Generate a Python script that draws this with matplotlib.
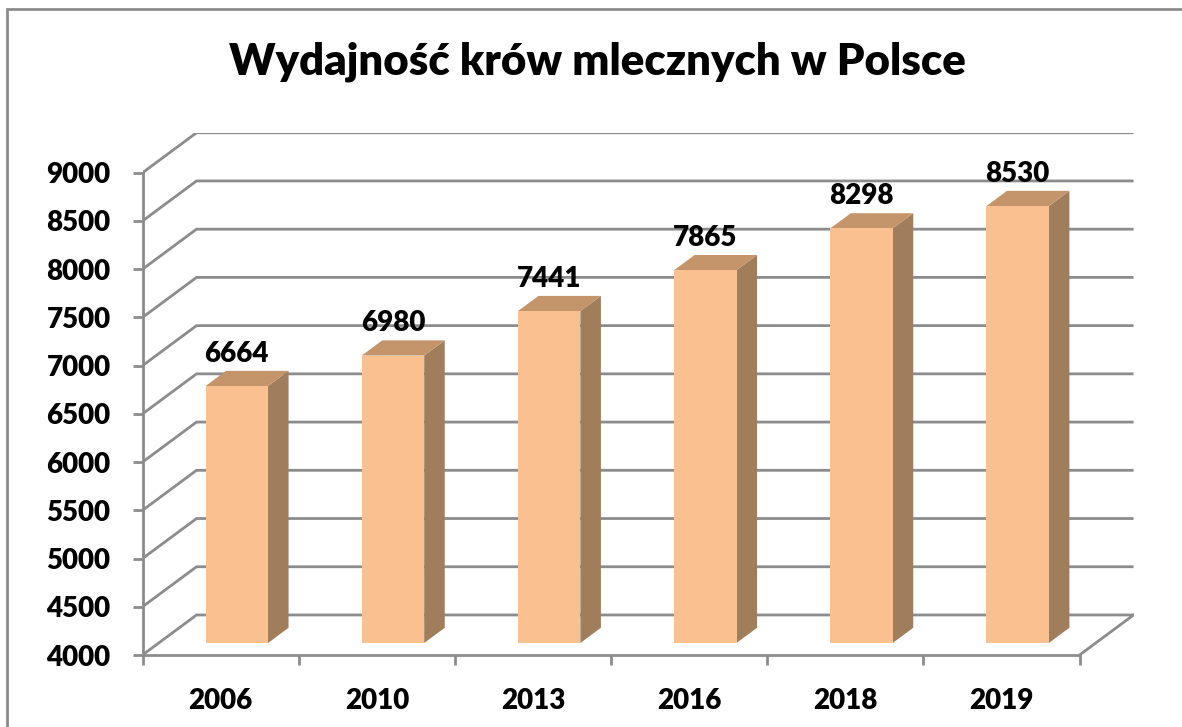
import matplotlib
matplotlib.use("Agg")
import matplotlib.pyplot as plt
from matplotlib.patches import Polygon, Rectangle

plt.rcParams['font.family'] = ['Lato', 'DejaVu Sans']
plt.rcParams['font.weight'] = 'bold'

# data
years = ["2006", "2010", "2013", "2016", "2018", "2019"]
values = [6664, 6980, 7441, 7865, 8298, 8530]
yticks = list(range(4000, 9001, 500))

title = "Wydajność krów mlecznych w Polsce"

# colours
front_col = "#FAC090"
top_col = "#C4946A"
side_col = "#A07D5B"
grid_col = "#8C8C8C"

# pseudo 3d: depth shift in data units
DX = 0.346
DY = 415
ymin, ymax = 4000, 9000
bar_w = 0.4
bar_d0 = 0.30   # depth of bar front face
bar_dd = 0.38   # depth of bar

W, H = 1182, 727
fig = plt.figure(figsize=(W / 100, H / 100), dpi=100)
# axes placed so that front plane runs 142.5..1079.5 px, 655..172 px
left_px, right_px = 142.5, 142.5 + 156.17 * (6 + DX)
bot_px = 655
top_px = bot_px - 0.09645 * (ymax + DY - ymin)
ax = fig.add_axes([left_px / W, 1 - bot_px / H, (right_px - left_px) / W, (bot_px - top_px) / H])
ax.set_xlim(0, 6 + DX)
ax.set_ylim(ymin, ymax + DY)


def proj(x, v, d):
    return (x + d * DX, v + d * DY)


# walls grid lines
for v in yticks:
    ax.plot([0, DX, 6 + DX], [v, v + DY, v + DY], color=grid_col, lw=2, solid_capstyle="butt", zorder=1)
ax.plot([6, 6 + DX], [ymin, ymin + DY], color=grid_col, lw=2, zorder=1)

# bars
for i, v in enumerate(values):
    x0 = i + 0.5 - bar_w / 2
    x1 = i + 0.5 + bar_w / 2
    d0, d1 = bar_d0, bar_d0 + bar_dd
    front = [proj(x0, ymin, d0), proj(x1, ymin, d0), proj(x1, v, d0), proj(x0, v, d0)]
    side = [proj(x1, ymin, d0), proj(x1, ymin, d1), proj(x1, v, d1), proj(x1, v, d0)]
    top = [proj(x0, v, d0), proj(x1, v, d0), proj(x1, v, d1), proj(x0, v, d1)]
    ax.add_patch(Polygon(side, closed=True, facecolor=side_col, edgecolor="none", zorder=3))
    ax.add_patch(Polygon(top, closed=True, facecolor=top_col, edgecolor="none", zorder=3))
    ax.add_patch(Polygon(front, closed=True, facecolor=front_col, edgecolor="none", zorder=4))
    lx = proj(i + 0.5, v, d0)[0]
    ly = proj(i + 0.5, v, d1)[1]
    ax.annotate(str(v), (lx, ly), xytext=(0, 3), textcoords="offset points",
                ha="center", va="bottom", fontsize=20, fontweight="heavy", zorder=5)

# axes
for s in ["top", "right"]:
    ax.spines[s].set_visible(False)
ax.spines["left"].set_bounds(ymin, ymax)
ax.spines["bottom"].set_bounds(0, 6)
for s in ["left", "bottom"]:
    ax.spines[s].set_color(grid_col)
    ax.spines[s].set_linewidth(2)
    ax.spines[s].set_zorder(2)

ax.set_yticks(yticks)
ax.set_yticklabels([str(t) for t in yticks], fontsize=20, fontweight="heavy")
ax.tick_params(axis="y", length=7, width=2, color=grid_col, pad=16)

ax.set_xticks(range(7))
ax.set_xticklabels([""] * 7)
ax.set_xticks([i + 0.5 for i in range(6)], minor=True)
ax.set_xticklabels(years, minor=True, fontsize=20, fontweight="heavy")
ax.tick_params(axis="x", which="major", length=7, width=2, color=grid_col)
ax.tick_params(axis="x", which="minor", length=0, pad=24)

fig.text(597 / W, 1 - 75 / H, title, ha="center", va="baseline", fontsize=31.5, fontweight="heavy")

# outer border
fig.patches.append(Rectangle((7 / W, -0.1), 1.2, 1 - 9 / H + 0.1, transform=fig.transFigure,
                             fill=False, edgecolor="#8C8C8C", lw=2))

fig.savefig("out.png", dpi=100)
